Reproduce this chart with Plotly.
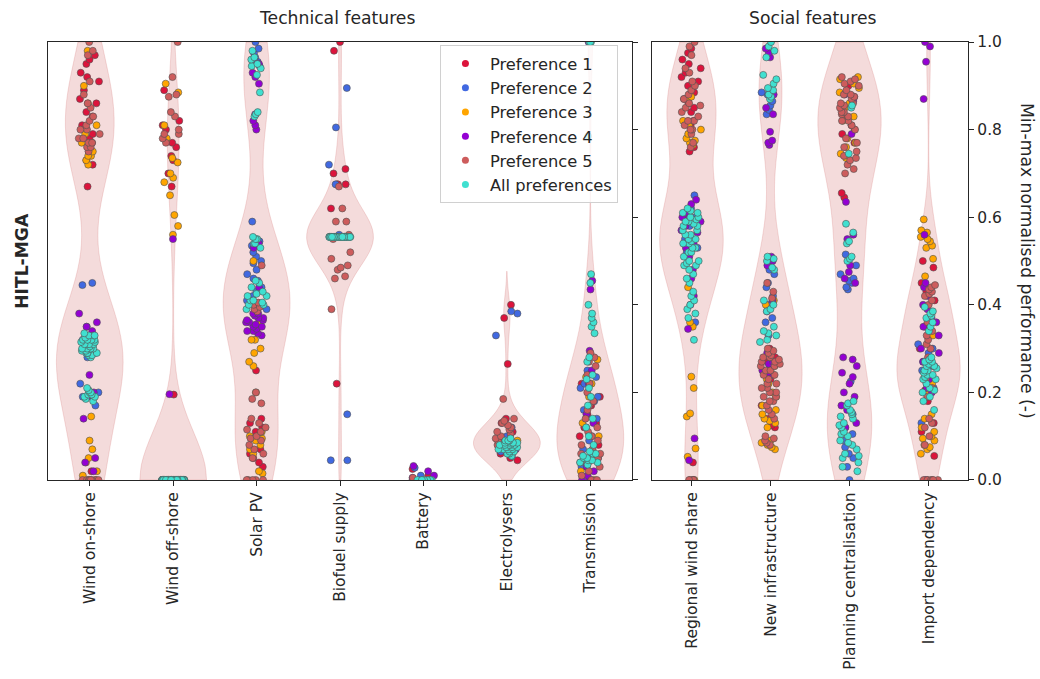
import numpy as np
import plotly.graph_objects as go

# ---------------- data ----------------
tech_categories = ["Wind on-shore", "Wind off-shore", "Solar PV", "Biofuel supply",
                   "Battery", "Electrolysers", "Transmission"]
social_categories = ["Regional wind share", "New infrastructure",
                     "Planning centralisation", "Import dependency"]
preferences = ["Preference 1", "Preference 2", "Preference 3", "Preference 4",
               "Preference 5", "All preferences"]
pref_colors = ["#DC143C", "#4169E1", "#FFA500", "#9400D3", "#CD5C5C", "#40E0D0"]
y_ticks = [0.0, 0.2, 0.4, 0.6, 0.8, 1.0]

# Wind on-shore
onshore_p1 = [0.97, 0.96, 0.95, 0.93, 0.92, 0.91, 0.89, 0.87, 0.86, 0.84, 0.83, 0.81, 0.80,
              0.79, 0.78, 0.77, 0.75, 0.73, 0.72, 0.67, 0.02]
onshore_p2 = [0.45, 0.445, 0.35, 0.33, 0.31, 0.29, 0.28, 0.22, 0.20, 0.19, 0.17]
onshore_p3 = [0.98, 0.90, 0.86, 0.81, 0.79, 0.77, 0.75, 0.74, 0.73, 0.74, 0.72, 0.145, 0.09,
              0.07, 0.05, 0.04, 0.02, 0.01, 0.0]
onshore_p4 = [0.38, 0.36, 0.35, 0.34, 0.32, 0.30, 0.29, 0.24, 0.20, 0.19, 0.14, 0.05, 0.04, 0.02]
onshore_p5 = [1.0, 0.98, 0.97, 0.91, 0.88, 0.86, 0.85, 0.83, 0.82, 0.81, 0.80, 0.80, 0.79, 0.78,
              0.78, 0.77, 0.77, 0.76, 0.76, 0.75, 0.0, 0.0, 0.0, 0.0, 0.0, 0.0, 0.0, 0.0]
onshore_all = [0.335, 0.33, 0.33, 0.32, 0.32, 0.315, 0.31, 0.31, 0.30, 0.30, 0.295, 0.29, 0.29,
               0.285, 0.28, 0.33, 0.325, 0.32, 0.315, 0.31, 0.305, 0.30, 0.30, 0.295, 0.29,
               0.285, 0.31, 0.32, 0.30, 0.29, 0.21, 0.205, 0.20, 0.195, 0.19, 0.185, 0.18,
               0.20, 0.19, 0.195]

# Wind off-shore
offshore_p1 = [0.89, 0.82, 0.81, 0.80, 0.77, 0.76, 0.74, 0.73, 0.70, 0.67, 0.195]
offshore_p2 = [0.0, 0.0, 0.0, 0.0]
offshore_p3 = [0.905, 0.885, 0.81, 0.78, 0.735, 0.725, 0.70, 0.69, 0.68, 0.65, 0.605, 0.58, 0.56]
offshore_p4 = [0.55, 0.196, 0.0, 0.0, 0.0, 0.0]
offshore_p5 = [1.0, 0.92, 0.88, 0.875, 0.84, 0.83, 0.80, 0.79, 0.79, 0.78, 0.77]
offshore_all = [0.0, 0.0, 0.0, 0.0, 0.0, 0.0, 0.0, 0.0, 0.0, 0.0, 0.0, 0.0, 0.0, 0.0, 0.0,
                0.0, 0.0, 0.0, 0.0, 0.0, 0.0, 0.0, 0.0, 0.0, 0.0, 0.0, 0.0, 0.0, 0.0, 0.0,
                0.0, 0.0, 0.0, 0.0, 0.0, 0.0, 0.0, 0.0, 0.0, 0.0, 0.0, 0.0, 0.0, 0.0, 0.0,
                0.0, 0.0, 0.0, 0.0, 0.0, 0.0, 0.0, 0.0, 0.0, 0.0, 0.0, 0.0, 0.0, 0.0, 0.0,
                0.0, 0.0, 0.0, 0.0, 0.0, 0.0, 0.0, 0.0, 0.0, 0.0, 0.0, 0.0, 0.0, 0.0, 0.0,
                0.0, 0.0, 0.0, 0.0, 0.0, 0.0, 0.0, 0.0, 0.0, 0.0, 0.0, 0.0, 0.0, 0.0, 0.0,
                0.0, 0.0, 0.0, 0.0, 0.0, 0.0, 0.0, 0.0, 0.0, 0.0, 0.0, 0.0, 0.0, 0.0, 0.0,
                0.0, 0.0, 0.0, 0.0, 0.0, 0.0, 0.0, 0.0, 0.0, 0.0, 0.0, 0.0, 0.0, 0.0, 0.0,
                0.0, 0.0, 0.0, 0.0, 0.0, 0.0, 0.0, 0.0, 0.0, 0.0, 0.0, 0.0, 0.0, 0.0, 0.0]

# Solar PV
solar_p1 = [0.25, 0.14, 0.13, 0.12, 0.11, 0.07, 0.06, 0.05, 0.04, 0.03]
solar_p2 = [1.0, 0.985, 0.975, 0.965, 0.955, 0.945, 0.59, 0.545, 0.535, 0.52, 0.51, 0.495,
            0.48, 0.47, 0.455, 0.44, 0.43, 0.41, 0.40, 0.39, 0.50, 0.46, 0.42]
solar_p3 = [0.50, 0.357, 0.32, 0.32, 0.30, 0.29, 0.27, 0.26, 0.20, 0.11, 0.10, 0.095, 0.09,
            0.08, 0.07, 0.06, 0.02, 0.015]
solar_p4 = [0.96, 0.95, 0.93, 0.92, 0.905, 0.835, 0.82, 0.81, 0.80, 0.54, 0.53, 0.44, 0.39,
            0.38, 0.375, 0.37, 0.365, 0.36, 0.355, 0.35, 0.345, 0.34, 0.335, 0.33,
            0.37, 0.36, 0.35, 0.38, 0.34, 0.365]
solar_p5 = [0.49, 0.405, 0.40, 0.395, 0.39, 0.385, 0.20, 0.185, 0.175, 0.14, 0.13, 0.12, 0.115,
            0.11, 0.10, 0.095, 0.09, 0.08, 0.07, 0.06, 0.05, 0.0, 0.0, 0.0, 0.0, 0.0]
solar_all = [0.98, 0.965, 0.96, 0.95, 0.945, 0.94, 0.925, 0.885, 0.84, 0.835, 0.83, 0.555,
             0.55, 0.54, 0.53, 0.455, 0.44, 0.425, 0.42, 0.41, 0.405, 0.40, 0.39,
             0.43, 0.42, 0.41, 0.40, 0.45, 0.55, 0.54]

# Biofuel supply
biofuel_p1 = [1.0, 0.98, 0.71, 0.70, 0.675, 0.675, 0.675, 0.62, 0.22]
biofuel_p2 = [0.895, 0.805, 0.72, 0.675, 0.56, 0.15, 0.045, 0.045]
biofuel_p3 = [0.555, 0.555]
biofuel_p4 = [0.555, 0.555]
biofuel_p5 = [0.67, 0.62, 0.59, 0.59, 0.56, 0.55, 0.52, 0.505, 0.49, 0.485, 0.48, 0.465,
              0.46, 0.39]
biofuel_all = [0.555, 0.555, 0.555, 0.555, 0.555, 0.555, 0.555, 0.555, 0.555, 0.555, 0.555,
               0.555, 0.555, 0.555, 0.555, 0.555, 0.555, 0.555, 0.555, 0.555, 0.555, 0.555,
               0.555, 0.555, 0.555, 0.555, 0.555, 0.555, 0.555, 0.555, 0.555, 0.555, 0.555,
               0.555, 0.555, 0.555, 0.555, 0.555, 0.555, 0.555]

# Battery
battery_p1 = [0.025, 0.01]
battery_p2 = [0.028, 0.01]
battery_p3 = [0.0]
battery_p4 = [0.032, 0.02, 0.01, 0.005]
battery_p5 = [0.005]
battery_all = [0.0, 0.0, 0.0, 0.0, 0.0, 0.0, 0.0, 0.0]

# Electrolysers
electro_p1 = [0.40, 0.37, 0.265, 0.14, 0.13, 0.11, 0.06, 0.05, 0.045]
electro_p2 = [0.385, 0.38, 0.33, 0.12, 0.10, 0.065, 0.055]
electro_p3 = [0.09]
electro_p4 = [0.07]
electro_p5 = [0.185, 0.14, 0.135, 0.13, 0.125, 0.12, 0.115, 0.11, 0.105, 0.10, 0.095, 0.09,
              0.085, 0.08, 0.075]
electro_all = [0.095, 0.09, 0.09, 0.085, 0.085, 0.08, 0.08, 0.075, 0.075, 0.07, 0.07, 0.065,
               0.065, 0.06, 0.06, 0.055, 0.08, 0.085, 0.075, 0.07, 0.08, 0.085, 0.075,
               0.08, 0.09, 0.07]

# Transmission
trans_p1 = [0.22, 0.19, 0.17, 0.15, 0.13, 0.12, 0.10, 0.08, 0.05, 0.03]
trans_p2 = [0.25, 0.235, 0.22, 0.21, 0.19, 0.18, 0.16, 0.14, 0.12, 0.10, 0.09, 0.07, 0.05, 0.03]
trans_p3 = [0.275, 0.235, 0.22, 0.19, 0.13, 0.10, 0.02, 0.0]
trans_p4 = [1.0, 0.455, 0.435, 0.295, 0.25, 0.22, 0.15, 0.13, 0.06, 0.03, 0.02, 0.01, 0.0,
            0.0, 0.0]
trans_p5 = [0.29, 0.28, 0.27, 0.26, 0.24, 0.22, 0.20, 0.18, 0.17, 0.16, 0.14, 0.12, 0.11, 0.10,
            0.09, 0.08, 0.07, 0.06, 0.05, 0.04, 0.03, 0.02, 0.01, 0.0, 0.0, 0.05, 0.04, 0.06]
trans_all = [1.0, 1.0, 1.0, 0.785, 0.47, 0.45, 0.40, 0.38, 0.37, 0.36, 0.35, 0.335, 0.28,
             0.27, 0.24, 0.23, 0.21, 0.19, 0.17, 0.14, 0.12, 0.10, 0.08, 0.065, 0.06, 0.055,
             0.05, 0.045, 0.04, 0.035, 0.06, 0.05, 0.045, 0.04]

# Regional wind share
regional_p1 = [0.985, 0.975, 0.96, 0.95, 0.94, 0.93, 0.92, 0.91, 0.90, 0.885, 0.87, 0.86,
               0.85, 0.84, 0.82, 0.81, 0.79, 0.76, 0.75, 0.04]
regional_p2 = [0.65, 0.62, 0.60, 0.58, 0.55, 0.53, 0.52, 0.36]
regional_p3 = [0.875, 0.87, 0.82, 0.81, 0.80, 0.79, 0.78, 0.775, 0.77, 0.765, 0.44, 0.36,
               0.35, 0.236, 0.21, 0.152, 0.145, 0.072, 0.053, 0.0]
regional_p4 = [0.64, 0.63, 0.61, 0.60, 0.59, 0.58, 0.565, 0.55, 0.53, 0.51, 0.48, 0.46, 0.42,
               0.40, 0.345, 0.095, 0.045, 0.0, 0.60, 0.57, 0.54]
regional_p5 = [1.0, 0.99, 0.97, 0.94, 0.93, 0.91, 0.90, 0.89, 0.88, 0.87, 0.86, 0.855, 0.85,
               0.84, 0.83, 0.82, 0.82, 0.81, 0.80, 0.80, 0.79, 0.77, 0.76, 0.0, 0.0, 0.0, 0.0]
regional_all = [0.62, 0.615, 0.61, 0.60, 0.595, 0.59, 0.585, 0.58, 0.57, 0.56, 0.55, 0.545,
                0.54, 0.53, 0.52, 0.51, 0.50, 0.495, 0.49, 0.48, 0.47, 0.46, 0.45, 0.43,
                0.42, 0.41, 0.40, 0.39, 0.38, 0.37, 0.32, 0.60, 0.58, 0.56, 0.54, 0.52,
                0.50, 0.59, 0.57, 0.55, 0.53, 0.61, 0.49]

# New infrastructure
infra_p1 = [0.30, 0.28, 0.27, 0.23, 0.17, 0.14, 0.125, 0.12]
infra_p2 = [0.885, 0.88, 0.875, 0.865, 0.855, 0.845, 0.835, 0.48, 0.47, 0.45, 0.44, 0.42,
            0.40, 0.37, 0.36, 0.33]
infra_p3 = [0.41, 0.40, 0.26, 0.25, 0.24, 0.23, 0.22, 0.20, 0.19, 0.17, 0.16, 0.15, 0.14,
            0.135, 0.13, 0.12, 0.09, 0.085, 0.08, 0.075, 0.07]
infra_p4 = [0.985, 0.975, 0.965, 0.88, 0.85, 0.835, 0.795, 0.775, 0.77, 0.765, 0.51, 0.50,
            0.49, 0.41, 0.385, 0.29, 0.28, 0.27, 0.265, 0.26, 0.25, 0.245, 0.24]
infra_p5 = [0.45, 0.43, 0.415, 0.30, 0.295, 0.29, 0.285, 0.28, 0.275, 0.27, 0.265, 0.26, 0.25,
            0.24, 0.22, 0.21, 0.20, 0.19, 0.18, 0.17, 0.16, 0.15, 0.14, 0.10, 0.095, 0.09,
            0.085, 0.08, 0.28, 0.27, 0.26, 0.25, 0.24, 0.23, 0.22, 0.21, 0.20, 0.19, 0.18]
infra_all = [1.0, 0.99, 0.98, 0.965, 0.925, 0.915, 0.905, 0.895, 0.89, 0.88, 0.875, 0.87,
             0.51, 0.505, 0.50, 0.485, 0.48, 0.41, 0.40, 0.39, 0.385, 0.35, 0.34, 0.335,
             0.33, 0.32, 0.315]

# Planning centralisation
planning_p1 = [0.90, 0.875, 0.84, 0.825, 0.81, 0.80, 0.79, 0.77, 0.655, 0.645]
planning_p2 = [0.515, 0.505, 0.49, 0.47, 0.46, 0.455, 0.45, 0.44, 0.435, 0.225, 0.15, 0.12,
               0.105, 0.09, 0.075, 0.06, 0.05, 0.03, 0.0]
planning_p3 = [0.92, 0.915, 0.905, 0.895, 0.885, 0.87, 0.86, 0.85, 0.83, 0.82, 0.78, 0.77,
               0.76, 0.745, 0.735, 0.73]
planning_p4 = [0.88, 0.865, 0.79, 0.635, 0.56, 0.55, 0.49, 0.475, 0.46, 0.45, 0.28, 0.275,
               0.26, 0.245, 0.235, 0.22, 0.20, 0.19, 0.17, 0.16, 0.13, 0.12]
planning_p5 = [0.92, 0.915, 0.91, 0.905, 0.90, 0.89, 0.88, 0.875, 0.87, 0.86, 0.855, 0.85,
               0.84, 0.835, 0.83, 0.82, 0.81, 0.80, 0.78, 0.77, 0.76, 0.75, 0.74, 0.735,
               0.73, 0.72, 0.71, 0.70, 0.88, 0.86, 0.84, 0.82]
planning_all = [0.855, 0.85, 0.745, 0.585, 0.565, 0.545, 0.54, 0.51, 0.505, 0.50, 0.18,
                0.175, 0.17, 0.16, 0.155, 0.15, 0.145, 0.14, 0.13, 0.125, 0.12, 0.11, 0.105,
                0.10, 0.09, 0.085, 0.08, 0.07, 0.06, 0.055, 0.05, 0.04, 0.03, 0.02]

# Import dependency
import_p1 = [0.50, 0.485, 0.45, 0.43, 0.41, 0.35, 0.30, 0.205, 0.18, 0.13, 0.11, 0.055]
import_p2 = [0.31, 0.30, 0.29, 0.27, 0.26, 0.25, 0.22, 0.21, 0.20, 0.13]
import_p3 = [0.595, 0.57, 0.565, 0.555, 0.55, 0.545, 0.535, 0.53, 0.505, 0.465, 0.33, 0.24,
             0.22, 0.20, 0.19, 0.15, 0.14, 0.12, 0.11, 0.10, 0.095, 0.09, 0.08, 0.075, 0.07,
             0.06]
import_p4 = [1.0, 0.99, 0.955, 0.87, 0.56, 0.45, 0.44, 0.42, 0.40, 0.39, 0.37, 0.36, 0.35,
             0.33, 0.30, 0.29, 0.27, 0.26, 0.23, 0.21, 0.20, 0.0]
import_p5 = [0.445, 0.44, 0.435, 0.43, 0.425, 0.42, 0.41, 0.40, 0.38, 0.36, 0.34, 0.33, 0.32,
             0.31, 0.30, 0.28, 0.25, 0.23, 0.21, 0.19, 0.14, 0.13, 0.12, 0.10, 0.08, 0.0, 0.0,
             0.0, 0.0, 0.0, 0.0, 0.0]
import_all = [0.395, 0.385, 0.38, 0.375, 0.37, 0.36, 0.35, 0.34, 0.28, 0.275, 0.27, 0.265,
              0.26, 0.255, 0.25, 0.245, 0.24, 0.235, 0.23, 0.22, 0.21, 0.205, 0.20, 0.19,
              0.18, 0.16, 0.27, 0.26, 0.25, 0.24, 0.23]

tech_data = [
    [onshore_p1, onshore_p2, onshore_p3, onshore_p4, onshore_p5, onshore_all],
    [offshore_p1, offshore_p2, offshore_p3, offshore_p4, offshore_p5, offshore_all],
    [solar_p1, solar_p2, solar_p3, solar_p4, solar_p5, solar_all],
    [biofuel_p1, biofuel_p2, biofuel_p3, biofuel_p4, biofuel_p5, biofuel_all],
    [battery_p1, battery_p2, battery_p3, battery_p4, battery_p5, battery_all],
    [electro_p1, electro_p2, electro_p3, electro_p4, electro_p5, electro_all],
    [trans_p1, trans_p2, trans_p3, trans_p4, trans_p5, trans_all],
]
social_data = [
    [regional_p1, regional_p2, regional_p3, regional_p4, regional_p5, regional_all],
    [infra_p1, infra_p2, infra_p3, infra_p4, infra_p5, infra_all],
    [planning_p1, planning_p2, planning_p3, planning_p4, planning_p5, planning_all],
    [import_p1, import_p2, import_p3, import_p4, import_p5, import_all],
]

# ---------------- figure ----------------
FONT = "DejaVu Sans"
TXT = "#262626"
VIOLIN_FILL = "rgba(205,92,92,0.22)"
VIOLIN_LINE = "rgba(205,92,92,0.25)"

fig = go.Figure()

panels = [
    (tech_categories, tech_data, "x", "y"),
    (social_categories, social_data, "x2", "y2"),
]

for cats, data, xa, ya in panels:
    # violins (all points of a category), Scott bandwidth, cut = 2 bandwidths
    for cat, groups in zip(cats, data):
        vals = np.concatenate([np.asarray(g, dtype=float) for g in groups])
        if np.ptp(vals) < 0.05:
            continue
        bw = np.std(vals, ddof=1) * len(vals) ** (-0.2)
        lo = max(0.0, vals.min() - 2 * bw)
        hi = min(1.0, vals.max() + 2 * bw)
        fig.add_trace(go.Violin(
            x=[cat] * len(vals), y=vals, xaxis=xa, yaxis=ya,
            fillcolor=VIOLIN_FILL, line=dict(color=VIOLIN_LINE, width=0.8),
            points=False, scalemode="width", width=0.8, bandwidth=bw,
            spanmode="manual", span=[lo, hi], showlegend=False, hoverinfo="skip",
        ))
    # strip points per preference
    for k, (pref, col) in enumerate(zip(preferences, pref_colors)):
        xs, ys = [], []
        for cat, groups in zip(cats, data):
            xs += [cat] * len(groups[k])
            ys += list(groups[k])
        fig.add_trace(go.Box(
            x=xs, y=ys, xaxis=xa, yaxis=ya, name=pref,
            boxpoints="all", jitter=0.9, pointpos=0, width=0.3,
            fillcolor="rgba(0,0,0,0)", line=dict(width=0, color="rgba(0,0,0,0)"),
            marker=dict(color=col, size=7, line=dict(width=0.6, color="#505050")),
            showlegend=False, hoverinfo="y",
        ))
    # legend entries (also lets the point layer draw over the frame)
    for pref, col in zip(preferences, pref_colors):
        fig.add_trace(go.Scatter(
            x=[None], y=[None], xaxis=xa, yaxis=ya, mode="markers", name=pref,
            marker=dict(color=col, size=7), cliponaxis=False,
            showlegend=(xa == "x"),
        ))

axis_common = dict(showline=True, linecolor=TXT, linewidth=1.3, mirror=True,
                   showgrid=False, zeroline=False, ticks="outside", ticklen=5,
                   tickwidth=1.1, tickcolor=TXT, automargin=False,
                   tickfont=dict(family=FONT, size=15.5, color=TXT))

fig.update_layout(
    template="none",
    width=1040, height=679,
    margin=dict(l=0, r=0, t=0, b=0, autoexpand=False),
    paper_bgcolor="white", plot_bgcolor="white",
    boxmode="overlay", violinmode="overlay",
    font=dict(family=FONT, color=TXT),
    xaxis=dict(domain=[0.0462, 0.6077], type="category", categoryorder="array",
               categoryarray=tech_categories, range=[-0.5, 6.5], tickangle=-90,
               anchor="y", **axis_common),
    yaxis=dict(domain=[0.2931, 0.9381], range=[0, 1], side="right", anchor="x",
               tickvals=y_ticks, showticklabels=False, **axis_common),
    xaxis2=dict(domain=[0.6269, 0.9308], type="category", categoryorder="array",
                categoryarray=social_categories, range=[-0.5, 3.5], tickangle=-90,
                anchor="y2", **axis_common),
    yaxis2=dict(domain=[0.2931, 0.9381], range=[0, 1], side="right", anchor="x2",
                tickvals=y_ticks, tickformat=".1f", **axis_common),
    legend=dict(x=0.423, y=0.933, xanchor="left", yanchor="top",
                bgcolor="rgba(255,255,255,0.8)", bordercolor="#d0d0d0", borderwidth=1,
                font=dict(family=FONT, size=16.3, color=TXT), itemwidth=39),
    annotations=[
        dict(text="Technical features", x=0.324, y=0.9735, xref="paper", yref="paper",
             xanchor="center", yanchor="middle", showarrow=False,
             font=dict(family=FONT, size=17.2, color=TXT)),
        dict(text="Social features", x=0.781, y=0.9735, xref="paper", yref="paper",
             xanchor="center", yanchor="middle", showarrow=False,
             font=dict(family=FONT, size=17.2, color=TXT)),
        dict(text="<b>HITL-MGA</b>", x=0.021, y=0.6156, xref="paper", yref="paper",
             xanchor="center", yanchor="middle", showarrow=False, textangle=-90,
             font=dict(family=FONT, size=17.2, color=TXT)),
        dict(text="Min-max normalised performance (-)", x=0.9875, y=0.6156,
             xref="paper", yref="paper", xanchor="center", yanchor="middle",
             showarrow=False, textangle=90,
             font=dict(family=FONT, size=17.2, color=TXT)),
    ],
)

fig.write_html("out.html", config={"displayModeBar": False},
               post_script="document.body.style.margin='0px';")
